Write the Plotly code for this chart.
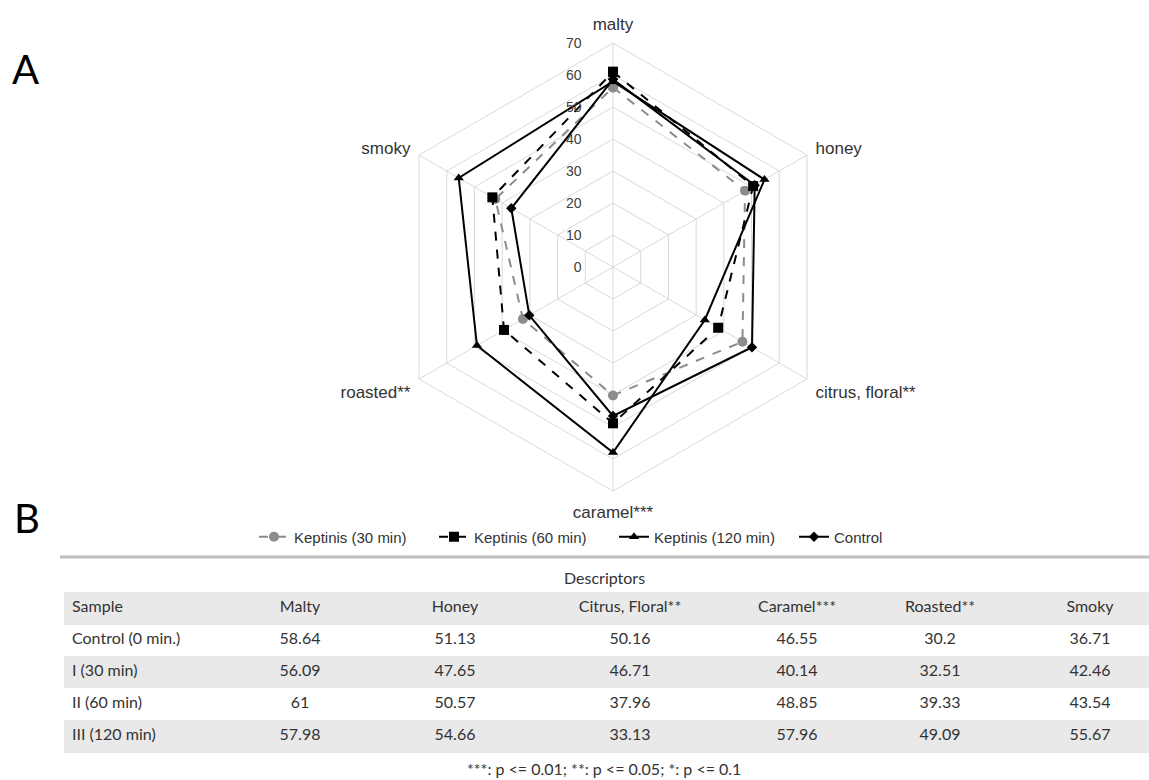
import plotly.graph_objects as go

# Sensory descriptors (radar axes) and mean panel scores per sample
descriptors = ["malty", "honey", "citrus, floral**", "caramel***", "roasted**", "smoky"]
control = [58.64, 51.13, 50.16, 46.55, 30.2, 36.71]
kept_30 = [56.09, 47.65, 46.71, 40.14, 32.51, 42.46]
kept_60 = [61, 50.57, 37.96, 48.85, 39.33, 43.54]
kept_120 = [57.98, 54.66, 33.13, 57.96, 49.09, 55.67]

series_names = ["Keptinis (30 min)", "Keptinis (60 min)", "Keptinis (120 min)", "Control"]

# Table contents
table_header = ["Sample", "Malty", "Honey", "Citrus, Floral**", "Caramel***", "Roasted**", "Smoky"]
sample_labels = ["Control (0 min.)", "I (30 min)", "II (60 min)", "III (120 min)"]
table_rows = [control, kept_30, kept_60, kept_120]

W, H = 1149, 780


def px_x(x):
    return x / W


def px_y(y):
    return 1 - y / H


def closed(vals):
    return list(vals) + [vals[0]]


theta = closed(descriptors)

styles = [
    dict(values=kept_30, color="#8c8c8c", dash="dash", symbol="circle", size=10),
    dict(values=kept_60, color="#000000", dash="dash", symbol="square", size=10),
    dict(values=kept_120, color="#000000", dash="solid", symbol="triangle-up", size=9),
    dict(values=control, color="#000000", dash="solid", symbol="diamond", size=8),
]

fig = go.Figure()
for name, st in zip(series_names, styles):
    fig.add_trace(go.Scatterpolar(
        r=closed(st["values"]), theta=theta, name=name, mode="lines+markers",
        line=dict(color=st["color"], width=2, dash=st["dash"]),
        marker=dict(color=st["color"], symbol=st["symbol"], size=st["size"]),
    ))

# Table of descriptor means
cell_columns = [sample_labels] + [[row[i] for row in table_rows] for i in range(len(descriptors))]
band = "#e9e9e9"
row_fill = ["white", band, "white", band]
table_font = dict(family="Lato", size=16, color="#333333")
fig.add_trace(go.Table(
    domain=dict(x=[px_x(64), px_x(1149)], y=[px_y(760), px_y(592)]),
    columnwidth=[141, 190, 120, 230, 104, 182, 118],
    header=dict(values=table_header, fill_color=band, line_color=band, height=32,
                align=["left"] + ["center"] * 6, font=table_font),
    cells=dict(values=cell_columns, fill_color=[row_fill] * 7, line_color=[row_fill] * 7,
               height=32, align=["left"] + ["center"] * 6, font=table_font),
))

panel_font = dict(family="Lato", size=40, color="black")

fig.update_layout(
    width=W, height=H,
    margin=dict(l=0, r=0, t=0, b=0, autoexpand=False),
    paper_bgcolor="white",
    font=dict(family="Liberation Sans", color="#333333"),
    polar=dict(
        domain=dict(x=[px_x(389), px_x(837)], y=[px_y(491), px_y(43)]),
        bgcolor="white",
        gridshape="linear",
        angularaxis=dict(rotation=90, direction="clockwise", showline=True,
                         linecolor="#d9d9d9", gridcolor="#d9d9d9",
                         ticks="outside", ticklen=6, tickcolor="rgba(0,0,0,0)",
                         tickfont=dict(size=17, color="#333333")),
        radialaxis=dict(range=[0, 70], dtick=10, angle=90, tickangle=90,
                        side="counterclockwise", showline=False,
                        ticks="outside", ticklen=26, tickcolor="rgba(0,0,0,0)",
                        gridcolor="#d9d9d9", tickfont=dict(size=14, color="#404040")),
    ),
    legend=dict(orientation="h", x=px_x(254), y=px_y(537), xanchor="left", yanchor="middle",
                entrywidth=135, font=dict(size=15, color="#333333"), bgcolor="rgba(0,0,0,0)"),
    annotations=[
        dict(text="A", x=px_x(10), y=px_y(69), xref="paper", yref="paper", showarrow=False,
             xanchor="left", yanchor="middle", font=panel_font),
        dict(text="B", x=px_x(12), y=px_y(518), xref="paper", yref="paper", showarrow=False,
             xanchor="left", yanchor="middle", font=panel_font),
        dict(text="Descriptors", x=px_x(604), y=px_y(577), xref="paper", yref="paper",
             showarrow=False, yanchor="middle", font=table_font),
        dict(text="***: p <= 0.01; **: p <= 0.05; *: p <= 0.1", x=px_x(604), y=px_y(768),
             xref="paper", yref="paper", showarrow=False, yanchor="middle", font=table_font),
    ],
    shapes=[
        dict(type="line", xref="paper", yref="paper", x0=px_x(60), x1=px_x(1149),
             y0=px_y(557), y1=px_y(557), line=dict(color="#bdbdbd", width=3)),
    ],
)

fig.write_html("out.html")
